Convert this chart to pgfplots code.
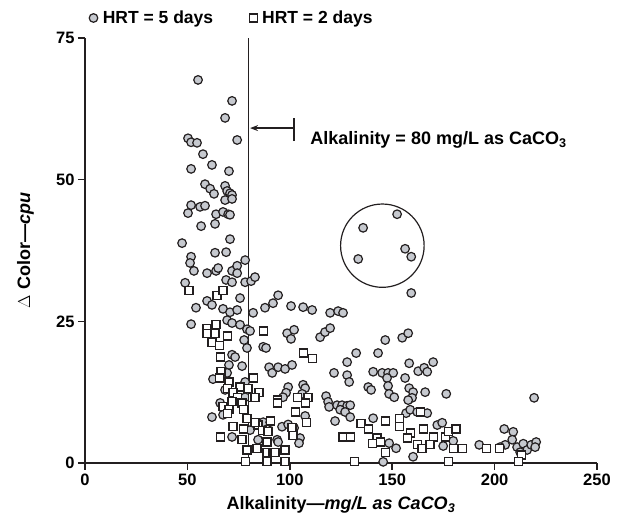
\documentclass[border=0pt]{standalone}
\usepackage{fontspec}
\setmainfont{Liberation Sans}
\usepackage{pgfplots}
\pgfplotsset{compat=1.18}
\usetikzlibrary{arrows.meta}
\definecolor{dotgray}{RGB}{198,201,207}
\definecolor{ink}{RGB}{35,31,32}

\begin{document}
\begin{tikzpicture}
\useasboundingbox (-85pt,-63pt) rectangle (540pt,463pt);
\begin{axis}[
  scale only axis, width=512pt, height=425pt,
  xmin=0, xmax=250, ymin=0, ymax=75,
  axis lines*=left,
  axis line style={line width=2.4pt, ink},
  xtick={0,50,100,150,200,250}, ytick={0,25,50,75},
  tick align=outside, major tick length=7pt,
  tick style={line width=1.6pt, ink},
  ticklabel style={font=\fontsize{16.5}{18}\selectfont\bfseries},
  /pgf/number format/assume math mode=true,
  xlabel={Alkalinity—\textit{mg/L as CaCO\textsubscript{3}}},
  ylabel={$\Delta$ Color—\textit{cpu}},
  label style={font=\fontsize{18}{20}\selectfont\bfseries},
  xlabel style={at={(axis description cs:0.5,0)}, anchor=base, yshift=-47pt},
  ylabel style={at={(axis description cs:-0.1074,0.5)}, anchor=base},
  legend columns=2,
  legend style={at={(axis description cs:0,1)}, anchor=west, xshift=4pt, yshift=20pt,
    draw=none, fill=none, inner sep=0pt,
    font=\fontsize{17.5}{19}\selectfont\bfseries,
    /tikz/every odd column/.append style={column sep=3pt},
    /tikz/every even column/.append style={column sep=34pt}},
  clip=false,
]
\addplot[only marks, mark=*, mark size=4.3pt,
  mark options={fill=dotgray, draw=ink, line width=1.2pt}] table {
x y
55.2 67.6
71.8 63.9
68.4 60.9
50.3 57.3
51.8 56.6
54.7 56.5
74.3 57.0
57.6 54.5
62.0 52.6
51.8 51.9
70.3 51.5
58.6 49.2
61.1 48.4
63.0 47.5
68.4 48.9
69.4 48.0
70.8 47.6
71.8 47.3
68.4 46.4
71.8 46.6
51.8 45.5
50.3 44.1
56.2 45.2
58.6 45.4
64.0 43.9
67.4 44.3
69.9 43.9
70.8 43.8
56.7 41.8
63.5 42.2
47.4 38.8
70.8 39.5
51.8 36.4
63.5 37.1
68.9 37.2
51.3 35.3
53.2 33.9
59.6 33.5
64.0 33.9
65.0 34.4
71.8 33.9
74.3 34.8
74.3 33.5
78.2 35.8
48.9 31.8
68.9 32.3
71.8 31.9
78.2 31.9
81.1 32.1
83.0 32.8
59.6 28.6
62.0 27.9
75.7 29.1
54.2 27.4
67.4 27.2
70.8 26.6
74.3 27.0
82.1 26.5
87.9 27.4
91.8 28.2
94.3 29.6
51.8 24.5
69.4 25.2
71.8 24.7
75.7 24.4
79.1 23.6
80.6 23.3
77.7 21.7
79.1 20.3
87.0 20.5
88.4 20.3
71.8 19.1
73.3 18.7
70.3 17.3
76.7 17.1
89.9 16.9
91.4 15.9
94.3 16.9
97.7 16.6
101.1 17.3
69.4 15.9
62.5 14.8
78.2 14.3
68.4 12.9
78.2 11.6
66.0 10.6
62.0 8.1
67.4 8.5
71.8 4.6
80.6 5.8
87.0 7.2
90.4 7.2
84.5 4.1
93.8 4.1
100.6 27.7
106.5 27.5
110.9 27.0
119.7 26.5
123.6 26.8
126.0 26.5
98.7 22.9
102.1 23.5
100.6 21.9
114.8 22.2
117.2 23.1
119.7 23.8
146.6 21.7
154.9 22.1
157.8 22.9
132.4 19.4
143.1 19.4
128.0 17.8
158.3 17.6
170.0 17.8
121.6 15.9
128.0 15.5
129.0 14.3
140.7 16.1
145.1 15.9
148.0 15.9
150.5 15.9
147.5 15.0
162.7 16.2
165.6 16.8
167.1 16.1
156.3 15.0
138.3 13.4
139.7 12.9
148.0 13.6
148.5 12.2
151.0 11.6
158.3 13.2
160.2 12.5
159.7 11.5
157.8 11.1
166.1 12.5
176.4 12.2
106.5 13.8
107.5 13.2
106.0 12.2
99.2 13.4
98.2 12.4
96.7 11.6
117.7 11.8
118.7 10.8
119.2 9.9
123.1 10.2
125.5 10.2
128.0 10.1
129.5 10.2
124.6 9.4
127.0 9.0
129.5 8.1
107.5 8.3
122.1 7.4
140.7 7.9
156.8 8.8
158.8 9.4
162.2 9.0
167.1 8.8
172.0 6.7
174.4 7.1
96.2 6.4
99.2 6.8
102.1 6.2
105.0 4.4
104.5 3.5
94.3 3.7
148.5 3.5
151.9 2.6
174.9 3.0
179.8 3.9
160.2 1.1
145.6 0.2
192.5 3.2
152.4 43.9
135.8 41.5
156.3 37.8
159.3 36.4
133.4 36.0
159.3 30.0
219.3 11.5
204.7 6.0
209.1 5.5
208.6 4.1
205.2 3.2
211.0 2.8
214.0 3.4
215.9 2.3
217.9 3.2
220.3 3.7
219.8 2.8
202.7 2.8
212.5 1.9
};
\addlegendentry{HRT = 5 days}
\addplot[only marks, mark=square*, mark size=4.0pt,
  mark options={fill=white, draw=ink, line width=1.2pt}] table {
x y
50.8 30.4
64.5 29.5
67.4 30.4
59.6 23.8
64.0 24.5
59.6 22.9
63.5 22.9
87.0 23.3
69.4 22.4
62.0 21.2
65.5 20.8
66.0 18.7
66.4 16.2
65.5 15.0
70.3 14.3
82.1 15.0
75.7 13.4
69.4 13.1
79.6 13.2
72.3 12.4
74.3 11.6
85.0 12.4
93.8 11.1
81.6 11.5
83.0 11.5
67.4 9.9
71.8 10.8
76.7 10.6
70.3 9.4
69.4 8.8
77.2 9.4
79.1 7.9
72.3 6.4
77.2 6.0
66.0 4.6
76.7 4.1
84.5 6.7
83.0 7.1
86.5 5.8
89.4 5.5
88.9 3.7
79.1 2.3
84.0 2.6
88.9 1.9
91.8 1.9
92.8 1.9
78.2 0.2
88.9 0.2
106.5 19.4
110.9 18.4
93.8 10.6
103.6 11.6
108.9 11.5
107.5 10.6
102.6 9.0
108.0 7.2
134.8 6.9
90.4 7.4
101.1 6.2
101.6 4.8
126.0 4.6
129.5 4.6
97.7 2.3
97.7 0.2
131.4 0.2
138.3 6.0
146.6 7.4
153.4 7.9
153.4 6.4
163.7 9.0
165.1 6.0
158.8 5.3
157.3 4.4
170.0 4.6
175.9 4.6
142.6 4.4
144.1 3.7
140.5 3.5
162.2 3.2
164.6 2.6
168.5 3.2
146.6 1.9
177.3 0.2
177.3 5.5
181.2 6.0
179.8 2.5
184.2 2.5
195.9 2.5
202.2 2.5
213.0 1.4
211.5 0.2
};
\addlegendentry{HRT = 2 days}
\draw[line width=1.3pt, ink] (axis cs:80,0) -- (axis cs:80,75);
\draw[-{Stealth[length=8pt,width=6pt]}, line width=1.2pt, ink] (axis cs:102,59.1) -- (axis cs:80.6,59.1);
\draw[line width=1.4pt, ink] (axis cs:102,56.8) -- (axis cs:102,60.9);
\node[anchor=base west, inner sep=0pt, font=\fontsize{18}{20}\selectfont\bfseries]
  at (axis cs:110,56.2) {Alkalinity = 80 mg/L as CaCO\textsubscript{3}};
\draw[line width=1.2pt, ink] (axis cs:145.2,38.35) ellipse [x radius=20.4, y radius=7.35];
\end{axis}
\end{tikzpicture}
\end{document}
